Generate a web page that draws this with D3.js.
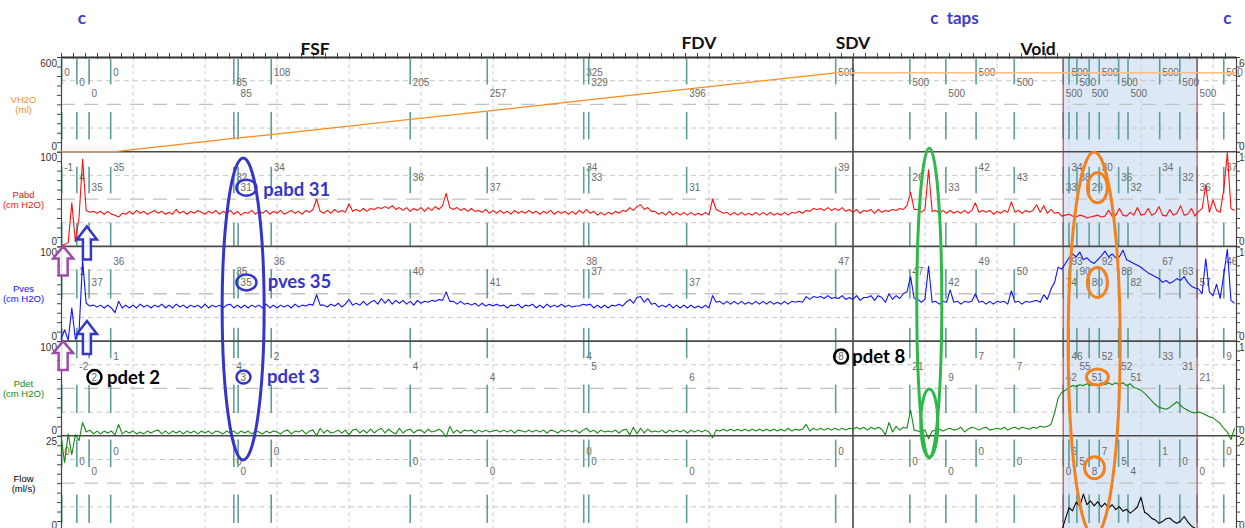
<!DOCTYPE html>
<html>
<head>
<meta charset="utf-8">
<script src="https://cdn.jsdelivr.net/npm/d3@7"></script>
<style>
  body { margin: 0; background: #fff; overflow: hidden; }
  svg { display: block; font-family: "Liberation Sans", Arial, sans-serif; }
</style>
</head>
<body>
<svg id="chart" width="1245" height="528"></svg>
<script>
// ---- channels
const channelNames = ["VH2O", "Pabd", "Pves", "Pdet", "Flow"];
const channelUnits = ["(ml)", "(cm H2O)", "(cm H2O)", "(cm H2O)", "(ml/s)"];
const channelMax = [600, 100, 100, 100, 25];
const channelColors = ["#ff8a1c", "#ff1010", "#1010ff", "#128a12", "#000000"];

// ---- event markers (minutes) and their value labels per channel
const markerTimes = [0.01, 0.22, 0.39, 0.69, 2.40, 2.46, 2.92, 4.85, 5.92, 7.26, 7.33, 8.69, 10.76, 11.79,
  12.29, 12.71, 13.24, 13.92, 14.00, 14.11, 14.28, 14.42, 14.69, 14.82, 15.26, 15.54, 15.78, 16.15];
const vh2oLabels = ["0","0","0","0","85","85","108","205","257","325","329","396","500","500",
  "500","500","500","500","500","500","500","500","500","500","500","500","500","500"];
const pabdLabels = ["-1","4","35","35","32","31","34","36","37","34","33","31","39","26",
  "33","42","43","33","34","38","29","30","36","32","34","32","36","37"];
const pvesLabels = ["","1","37","36","35","35","36","40","41","38","37","37","47","47",
  "42","49","50","74","93","90","80","92","88","82","67","63","57","46"];
const pdetLabels = ["","-2","2","1","4","3","2","4","4","4","5","6","8","21",
  "9","7","7","42","46","55","51","52","52","51","33","31","21","9"];
const flowLabels = ["0","0","0","0","0","0","0","0","0","0","0","0","0","0",
  "0","0","0","0","6","5","8","7","5","4","1","0","0","0"];
const allLabels = [vh2oLabels, pabdLabels, pvesLabels, pdetLabels, flowLabels];

// ---- infused volume (ml)
const vh2oTimes = [0, 0.75, 2.40, 2.92, 4.85, 5.92, 7.26, 8.69, 10.76];
const vh2oValues = [0, 0, 85, 108, 205, 257, 325, 396, 500];
const vh2oHoldTimes = [10.76, 16.32];
const vh2oHoldValues = [500, 500];

// ---- pressure traces, one sample every 0.05 min
const STEP = 0.05;
const pabd = [
  1,2,4,46,5,30,92,38,36,37, 35,37,34,37,34,33,31,35,34,37, 34,38,35,37,34,36,38,35,37,34,
  36,34,39,35,37,34,37,35,38,36, 34,37,35,38,34,37,35,38,34,37, 33,36,35,38,34,37,35,38,34,37,
  35,38,34,36,38,35,37,34,38,36, 39,50,37,35,38,35,39,36,38,36, 45,37,39,37,40,37,40,39,41,40,
  42,40,43,39,41,38,41,37,40,38, 41,37,41,38,42,39,43,56,41,39, 41,38,40,37,40,37,38,36,39,35,
  38,35,38,35,37,34,38,35,37,35, 38,35,37,34,37,35,38,34,37,35, 37,34,37,34,38,35,39,35,37,33,
  36,33,36,34,37,35,38,37,41,38, 42,44,39,41,37,37,34,36,33,37, 33,36,33,36,33,36,33,35,33,36,
  33,50,39,37,35,36,33,36,33,36, 33,35,33,36,33,36,33,36,33,35, 33,36,33,36,35,37,35,38,37,40,
  39,40,38,41,38,40,38,41,37,39, 36,39,35,38,37,39,35,39,36,38, 37,39,38,40,39,43,57,39,39,36,
  39,81,37,38,35,38,35,38,35,37, 35,38,35,38,46,36,38,36,38,34, 37,35,38,36,47,36,38,35,38,36,
  38,44,36,43,35,39,35,36,32,33, 34,32,31,33,32,30,31,32,33,31, 32,38,32,33,40,33,32,36,33,41,
  33,34,40,33,35,42,33,32,39,33, 35,43,33,34,40,32,37,40,65,36, 49,38,36,60,99,40,38
];
const pves = [
  2,12,1,35,2,9,85,40,37,38, 36,38,35,38,35,30,42,35,38,35, 38,35,39,36,38,35,38,36,39,35,
  38,35,39,36,38,35,38,36,38,35, 39,35,38,36,38,35,38,39,35,38, 35,38,35,38,36,38,35,39,35,38,
  35,38,36,38,35,39,36,38,37,39, 38,49,38,38,36,39,37,40,36,39, 44,38,40,38,42,38,41,43,39,45,
  40,44,39,43,40,43,39,42,38,43, 40,42,41,43,42,44,43,52,42,42, 39,42,39,40,38,40,37,40,37,39,
  37,39,37,38,35,38,37,39,35,38, 37,39,35,38,35,39,36,38,36,39, 36,38,36,37,37,39,38,39,35,38,
  35,38,35,38,37,39,37,41,44,40, 46,47,41,45,39,40,36,38,36,39, 35,38,35,38,35,38,35,37,35,38,
  35,48,41,42,39,42,39,42,39,42, 39,41,39,42,39,42,39,42,39,41, 39,42,39,42,41,42,41,47,44,47,
  46,47,45,48,45,46,45,48,44,46, 44,48,43,46,46,48,43,48,46,41, 50,44,48,45,50,52,68,45,44,41,
  44,79,41,42,39,42,41,54,41,42, 39,42,41,42,50,41,42,39,42,39, 42,41,42,39,53,41,42,39,42,41,
  42,43,41,49,44,55,62,78,76,82, 88,92,89,94,86,88,84,82,86,90, 95,89,92,88,89,96,86,84,82,80,
  78,75,72,70,68,66,62,64,61,63, 66,64,68,62,58,56,55,50,87,52, 48,60,45,70,97,43,40
];
const pdet = [
  0,-28,2,-20,1,-5,14,4,6,2, 5,2,5,3,5,1,12,2,5,3, 5,2,4,2,5,3,5,6,2,5,
  2,5,3,5,2,5,3,5,2,5, 3,5,2,5,4,2,5,3,5,2, 5,3,5,2,5,4,2,5,3,5,
  4,2,5,6,2,5,4,6,2,5, 6,0,8,3,6,3,4,6,3,6, 1,6,7,3,6,3,7,3,6,8,
  3,7,4,2,8,3,6,7,3,6, 6,3,7,4,5,7,4,-1,10,3, 6,3,6,5,6,3,6,4,6,4,
  5,6,4,6,4,6,3,6,5,4, 6,4,6,4,6,3,6,5,3,6, 4,6,4,6,3,6,8,4,6,3,
  6,4,5,4,6,3,6,7,1,9, 2,8,3,7,4,5,4,6,3,6, 4,6,4,6,3,6,4,6,4,6,
  4,-2,6,5,7,5,7,5,7,5, 7,5,7,5,7,5,7,5,7,5, 7,5,8,5,7,6,7,12,5,8,
  6,8,6,8,6,8,6,8,6,8, 7,9,7,9,6,9,7,9,7,1, 14,4,10,6,9,8,27,6,5,4,
  6,-3,5,6,7,5,7,8,6,7, 9,4,7,9,8,6,8,9,6,7, 8,7,9,6,8,9,7,9,8,7,
  9,8,10,9,10,12,24,40,46,48, 51,53,52,54,53,55,53,55,53,56, 54,56,54,56,54,56,53,55,51,50,
  48,45,41,37,33,30,29,28,30,33, 36,32,29,27,25,24,25,24,22,20, 19,16,13,8,4,-4,8
];
// flow (ml/s) only during the void, same sample step
const flowStart = 13.90;
const flow = [
  0,3,6,5.2,7.5,6.4,9.6,6.8,7.8,6.5, 7.6,6.2,7.2,5.9,6.8,5.5,6.3,5.1,5.6,4.6,
  5.3,6.2,8.8,4.8,4.2,3.2,2.8,1.9,2.4,3.1, 3.3,2.4,1.9,2.5,3.7,2.3,1.2,0.6,0
];

// ---- phases
const voidStart = 13.92, voidEnd = 15.78;
const sdvTime = 11.0;
const noteLabels = ["c", "FSF", "FDV", "SDV", "c  taps", "Void", "c"];
const noteTimes = [0.29, 3.53, 8.86, 11.0, 12.41, 13.57, 16.2];
const noteBlue = [true, false, false, false, true, false, true];

// ---- layout
const svg = d3.select('#chart');
const TOP = 57, PH = 94.7, BOTTOM = TOP + 5 * PH;
const x = d3.scaleLinear().domain([0, 16.32]).range([61, 1236]);

const panels = channelNames.map((name, i) => {
  const top = TOP + i * PH;
  return {
    name, unit: channelUnits[i], color: channelColors[i], max: channelMax[i], top,
    bottom: top + PH,
    y: d3.scaleLinear().domain([0, channelMax[i]]).range([top + PH, top])
  };
});

// void shading
svg.append('rect')
  .attr('x', x(voidStart)).attr('y', TOP)
  .attr('width', x(voidEnd) - x(voidStart)).attr('height', BOTTOM - TOP)
  .attr('fill', '#dde8f7');

// vertical grid, one per minute
const grid = svg.append('g');
grid.selectAll('line.v')
  .data(d3.range(1, 17))
  .join('line')
  .attr('x1', d => x(d)).attr('x2', d => x(d))
  .attr('y1', TOP).attr('y2', BOTTOM)
  .attr('stroke', '#cdcdcd').attr('stroke-dasharray', '4,3');

// horizontal grid in each panel
panels.forEach(p => {
  [0.25, 0.5, 0.75].forEach(f => {
    grid.append('line')
      .attr('x1', x(0)).attr('x2', x.range()[1])
      .attr('y1', p.y(p.max * f)).attr('y2', p.y(p.max * f))
      .attr('stroke', f === 0.5 ? '#c2c2c2' : '#c8c8c8')
      .attr('stroke-width', f === 0.5 ? 1.3 : 1)
      .attr('stroke-dasharray', f === 0.5 ? '14,9' : '5,4');
  });
});

// event markers (two pieces in each panel) and their labels
const markerPieces = [
  [[0.02, 0.29], [0.58, 0.87]],
  [[0.16, 0.44], [0.75, 1.0]],
  [[0.24, 0.55], [0.86, 1.0]],
  [[0.0, 0.18], [0.46, 0.76]],
  [[0.04, 0.33], [0.62, 0.92]]
];
const labelOffsets = [19, 29, 39.5];
const markers = svg.append('g');
panels.forEach((p, pi) => {
  markerTimes.forEach((t, mi) => {
    markerPieces[pi].forEach(([a, b]) => {
      markers.append('line')
        .attr('x1', x(t)).attr('x2', x(t))
        .attr('y1', p.top + a * PH).attr('y2', p.top + b * PH)
        .attr('stroke', '#5c9f9b').attr('stroke-width', 1.6);
    });
    markers.append('text')
      .attr('x', x(t) + 2.5)
      .attr('y', p.top + labelOffsets[mi % 3])
      .attr('font-size', 10).attr('fill', '#6a6a6a')
      .text(allLabels[pi][mi]);
  });
});

// void borders and SDV line
[voidStart, voidEnd].forEach(t => {
  svg.append('line').attr('x1', x(t)).attr('x2', x(t)).attr('y1', TOP).attr('y2', BOTTOM)
    .attr('stroke', '#b84a4a').attr('stroke-width', 1.2);
});
svg.append('line').attr('x1', x(sdvTime)).attr('x2', x(sdvTime)).attr('y1', TOP).attr('y2', BOTTOM)
  .attr('stroke', '#333').attr('stroke-width', 1.4);

// panel separators
panels.forEach((p, i) => {
  if (i === 0) return;
  svg.append('line').attr('x1', x(0)).attr('x2', x.range()[1])
    .attr('y1', p.top).attr('y2', p.top)
    .attr('stroke', '#4a4a4a').attr('stroke-width', 1.6);
});

// top time axis
svg.append('g')
  .attr('transform', `translate(0,${TOP})`)
  .call(d3.axisTop(x).tickValues(d3.range(0, 16.33, 1 / 6)).tickSize(4).tickFormat('').tickSizeOuter(0))
  .call(g => g.select('.domain').attr('stroke', '#333').attr('stroke-width', 2))
  .call(g => g.selectAll('.tick line').attr('stroke', '#444').attr('y2', -4).attr('y1', 2));

// left and right axes per panel
panels.forEach(p => {
  const tv = d3.range(0, 11).map(k => p.max * k / 10);
  svg.append('g').attr('transform', `translate(${x(0)},0)`)
    .call(d3.axisLeft(p.y).tickValues(tv).tickSize(4).tickFormat('').tickSizeOuter(0))
    .call(g => g.select('.domain').attr('stroke', '#444').attr('stroke-width', 1.2))
    .call(g => g.selectAll('.tick line').attr('stroke', '#444'));
  svg.append('g').attr('transform', `translate(${x.range()[1]},0)`)
    .call(d3.axisRight(p.y).tickValues(tv).tickSize(4).tickFormat('').tickSizeOuter(0))
    .call(g => g.select('.domain').attr('stroke', '#444').attr('stroke-width', 1.2))
    .call(g => g.selectAll('.tick line').attr('stroke', '#444'));

  // end values
  svg.append('text').attr('x', 57).attr('y', p.top + 9.5).attr('text-anchor', 'end')
    .attr('font-size', 10).attr('fill', '#333').text(p.max);
  svg.append('text').attr('x', 57).attr('y', p.bottom - 1.5).attr('text-anchor', 'end')
    .attr('font-size', 10).attr('fill', '#333').text(0);
  svg.append('text').attr('x', 1239).attr('y', p.top + 9.5)
    .attr('font-size', 10).attr('fill', '#333').text(p.max);
  svg.append('text').attr('x', 1239).attr('y', p.bottom - 1.5)
    .attr('font-size', 10).attr('fill', '#333').text(0);

  // channel names
  svg.append('text').attr('x', 23.5).attr('y', p.top + 46).attr('text-anchor', 'middle')
    .attr('font-size', 9.5).attr('fill', p.color).text(p.name);
  svg.append('text').attr('x', 23.5).attr('y', p.top + 56).attr('text-anchor', 'middle')
    .attr('font-size', 9.5).attr('fill', p.color).text(p.unit);
});

// traces
const series = (arr, t0) => arr.map((v, i) => [t0 + i * STEP, v]);
const pair = (ts, vs) => ts.map((t, i) => [t, vs[i]]);
function drawTrace(data, p, color, width) {
  svg.append('path')
    .datum(data)
    .attr('fill', 'none')
    .attr('stroke', color)
    .attr('stroke-width', width)
    .attr('stroke-linejoin', 'round')
    .attr('d', d3.line().x(d => x(d[0])).y(d => p.y(d[1])));
}
drawTrace(pair(vh2oHoldTimes, vh2oHoldValues), panels[0], '#ffbe80', 1.6);
drawTrace(pair(vh2oTimes, vh2oValues), panels[0], channelColors[0], 1.2);
drawTrace(series(pabd, 0), panels[1], channelColors[1], 1.1);
drawTrace(series(pves, 0), panels[2], channelColors[2], 1.1);
drawTrace(series(pdet, 0), panels[3], channelColors[3], 1.1);
drawTrace(series(flow, flowStart), panels[4], channelColors[4], 1.1);

// phase notes at the top
noteLabels.forEach((txt, i) => {
  const blue = noteBlue[i];
  svg.append('text')
    .attr('x', x(noteTimes[i]))
    .attr('y', blue ? 24 : (txt === 'FSF' || txt === 'Void' ? 55 : 49))
    .attr('text-anchor', 'middle')
    .attr('font-family', 'Lato, "Open Sans", sans-serif')
    .attr('font-weight', 'bold')
    .attr('font-size', blue ? 17 : 17.5)
    .attr('fill', blue ? '#3b3bcc' : '#111')
    .attr('xml:space', 'preserve')
    .style('white-space', 'pre')
    .text(txt);
});

// hand drawn highlights
const ann = svg.append('g').attr('fill', 'none');
const labelCentre = (pi, mi) => [x(markerTimes[mi]) + 2.5 + allLabels[pi][mi].length * 2.9,
  panels[pi].top + labelOffsets[mi % 3] - 3.5];

// blue: filling phase
const BLUE = '#3535c8', GREEN = '#2fb84a', ORANGE = '#f5801e';
ann.append('ellipse').attr('cx', x(2.53)).attr('cy', 309).attr('rx', 21).attr('ry', 151)
  .attr('stroke', BLUE).attr('stroke-width', 3);
[[1, 5], [2, 5], [3, 5]].forEach(([pi, mi], k) => {
  const [cx, cy] = labelCentre(pi, mi);
  ann.append('ellipse').attr('cx', cx).attr('cy', cy)
    .attr('rx', k === 2 ? 7 : 10).attr('ry', k === 2 ? 6.5 : 8)
    .attr('stroke', BLUE).attr('stroke-width', 2.5);
});
// black: pdet picks
[[3, 2], [3, 12]].forEach(([pi, mi]) => {
  const [cx, cy] = labelCentre(pi, mi);
  ann.append('circle').attr('cx', cx).attr('cy', cy).attr('r', 7)
    .attr('stroke', '#000').attr('stroke-width', 2.5);
});
// green: taps
ann.append('ellipse').attr('cx', x(12.06)).attr('cy', 303).attr('rx', 12.5).attr('ry', 155)
  .attr('stroke', GREEN).attr('stroke-width', 3);
ann.append('ellipse').attr('cx', x(12.06)).attr('cy', 423).attr('rx', 8.5).attr('ry', 34)
  .attr('stroke', GREEN).attr('stroke-width', 3);
// orange: void
ann.append('ellipse').attr('cx', x(14.35)).attr('cy', 344).attr('rx', 26).attr('ry', 192)
  .attr('stroke', ORANGE).attr('stroke-width', 3);
[1, 2, 3, 4].forEach(pi => {
  const [cx, cy] = labelCentre(pi, 20);
  ann.append('ellipse').attr('cx', cx).attr('cy', pi === 4 ? cy - 4 : cy)
    .attr('rx', pi === 3 ? 11 : 10).attr('ry', pi === 3 ? 8 : (pi === 4 ? 11 : 15))
    .attr('stroke', ORANGE).attr('stroke-width', 3);
});

// arrows
function arrow(tx, ty, color, headH, headW, shaftW, len) {
  const d = `M${tx},${ty} L${tx + headW},${ty + headH} L${tx + shaftW},${ty + headH} L${tx + shaftW},${ty + len}
    L${tx - shaftW},${ty + len} L${tx - shaftW},${ty + headH} L${tx - headW},${ty + headH} Z`;
  svg.append('path').attr('d', d).attr('fill', 'rgba(255,255,255,0.85)')
    .attr('stroke', color).attr('stroke-width', 2.5).attr('stroke-linejoin', 'miter');
}
arrow(x(0.03), panels[1].bottom, '#9b4ea6', 12, 10, 4.5, 29);
arrow(x(0.03), panels[2].bottom, '#9b4ea6', 12, 10, 4.5, 29);
arrow(x(0.36), panels[1].bottom - 20, BLUE, 13, 10, 4, 33);
arrow(x(0.36), panels[2].bottom - 20, BLUE, 13, 10, 4, 33);

// annotation texts
const noteTexts = ["pabd 31", "pves 35", "pdet 3", "pdet 2", "pdet 8"];
const noteTextTimes = [2.81, 2.87, 2.86, 0.64, 10.99];
const noteTextColors = [BLUE, BLUE, BLUE, '#000', '#000'];
const noteTextPanels = [1, 2, 3, 3, 3];
const noteTextDy = [44, 41.5, 42, 43, 22];
noteTexts.forEach((t, i) => {
  svg.append('text')
    .attr('x', x(noteTextTimes[i]))
    .attr('y', panels[noteTextPanels[i]].top + noteTextDy[i])
    .attr('font-family', 'Lato, "Open Sans", sans-serif')
    .attr('font-weight', 'bold').attr('font-size', 18.5)
    .attr('fill', noteTextColors[i])
    .text(t);
});
</script>
</body>
</html>
